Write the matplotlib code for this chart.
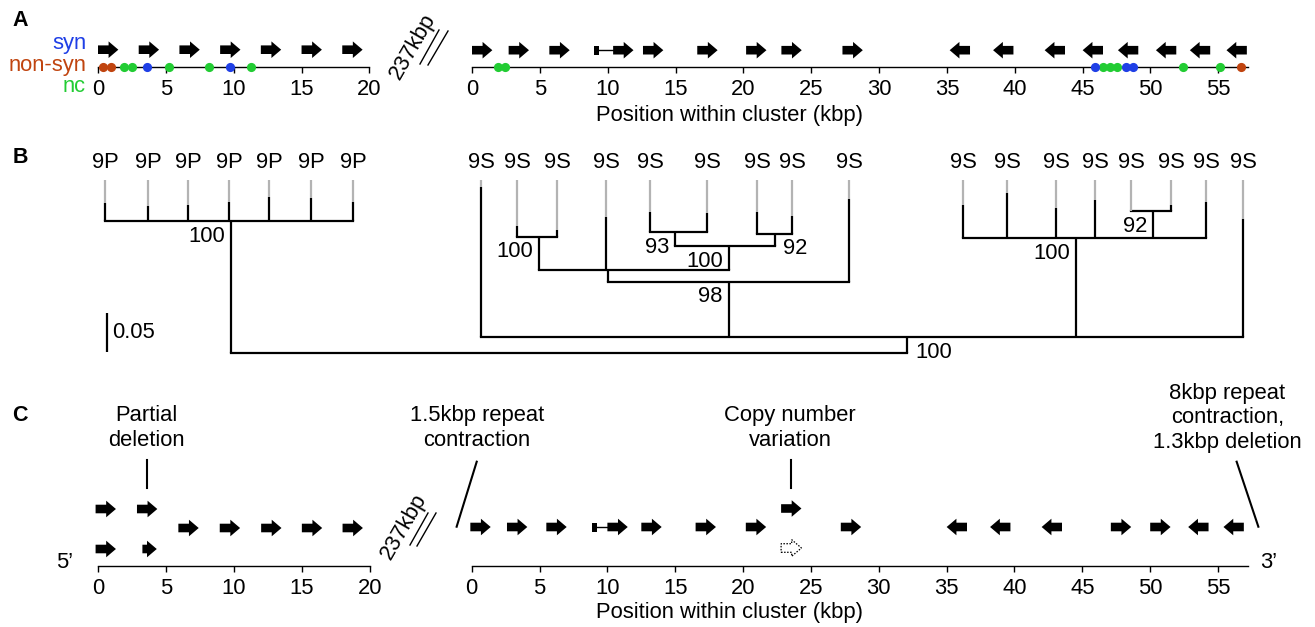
import matplotlib
matplotlib.use('Agg')
import matplotlib.pyplot as plt
from matplotlib.patches import Polygon, Rectangle

plt.rcParams['font.family'] = ['Liberation Sans', 'DejaVu Sans']
plt.rcParams['font.size'] = 15.8

# figure geometry in pixels (dpi 100)
W, H = 1315, 627
PX_PER_KBP = 13.57

BLUE = '#1f3fe6'
RED = '#c0440f'
GREEN = '#22cc33'
GRAY = '#b3b3b3'

# ---------------- Panel A data (kbp) ----------------
a_left_genes = [0, 3, 6, 9, 12, 15, 18]
a_left_strand = [1, 1, 1, 1, 1, 1, 1]
a_left_syn = [3.6, 9.7]
a_left_nonsyn = [0.4, 0.95]
a_left_nc = [1.9, 2.5, 5.2, 8.2, 11.3]

a_right_genes = [0, 2.7, 5.7, 10.4, 12.6, 16.6, 20.2, 22.8, 27.3,
                 35.2, 38.4, 42.2, 45.0, 47.6, 50.4, 52.9, 55.6]
a_right_strand = [1, 1, 1, 1, 1, 1, 1, 1, 1, -1, -1, -1, -1, -1, -1, -1, -1]
a_right_box = [9.0]
a_right_syn = [45.9, 48.2, 48.7]
a_right_nonsyn = [56.7]
a_right_nc = [1.9, 2.4, 46.5, 47.0, 47.5, 52.4, 55.1]

left_ticks = [0, 5, 10, 15, 20]
right_ticks = [0, 5, 10, 15, 20, 25, 30, 35, 40, 45, 50, 55]
left_end = 20
right_end = 57.2

# ---------------- Panel B data (tree) ----------------
leaf_names = ['9P'] * 7 + ['9S'] * 17
leaf_depth = [0.192, 0.188, 0.190, 0.194, 0.200, 0.199, 0.193,
              0.213, 0.163, 0.158, 0.175, 0.181, 0.179, 0.181, 0.176, 0.198,
              0.190, 0.2055, 0.1855, 0.196, 0.182, 0.190, 0.194, 0.172]
node_ids = ['p', 'a', 'b', 'c93', 'c92', 'n2', 'n98', 'r92', 'r100', 's', 'root']
node_children = [[0, 1, 2, 3, 4, 5, 6], [8, 9], ['c93', 'c92'], [11, 12], [13, 14],
                 ['a', 10, 'b'], ['n2', 15], [20, 21], [16, 17, 18, 19, 'r92', 22],
                 [7, 'n98', 'r100', 23], ['p', 's']]
node_depth = [0.169, 0.149, 0.137, 0.155, 0.153, 0.106, 0.0914, 0.182, 0.147, 0.0205, 0.0]
node_support = ['100', '100', '100', '93', '92', '', '98', '92', '100', '100', '']
scale_len = 0.05

# tree layout (pixel x of tips / nodes)
leaf_x = [105, 148, 188, 229, 269, 311, 353,
          481, 517, 557, 606, 650, 707, 757, 792, 849,
          963, 1007, 1056, 1095, 1131, 1171, 1206, 1243]
node_x = [231, 539, 729, 675, 775, 608, 729, 1153, 1076, 907, 0]
support_side = ['r', 'r', 'r', 'r', 'l', '', 'r', 'r', 'r', 'l', '']

# ---------------- Panel C data (kbp) ----------------
c_left_main = [5.9, 8.95, 12, 15, 18]
c_left_upper = [-0.2, 2.85]
c_left_lower = [-0.2]
c_left_partial = [3.25]
c_right_genes = [-0.1, 2.6, 5.5, 10.0, 12.5, 16.5, 20.2, 27.2,
                 35.0, 38.2, 42.0, 47.1, 50.0, 52.8, 55.4]
c_right_strand = [1, 1, 1, 1, 1, 1, 1, 1, -1, -1, -1, 1, 1, -1, -1]
c_right_box = [8.9]
c_copy_gain = [22.8]
c_copy_lost = [22.8]

GENE_LEN = 1.5
HEAD_LEN = 0.72


def gene_arrow(ax, x, y, strand=1, length=GENE_LEN, dashed=False):
    body = length - HEAD_LEN
    bh, hh = 4.3, 8.3
    if strand == 1:
        pts = [(x, y - bh), (x + body, y - bh), (x + body, y - hh), (x + length, y),
               (x + body, y + hh), (x + body, y + bh), (x, y + bh)]
    else:
        pts = [(x + length, y - bh), (x + HEAD_LEN, y - bh), (x + HEAD_LEN, y - hh), (x, y),
               (x + HEAD_LEN, y + hh), (x + HEAD_LEN, y + bh), (x + length, y + bh)]
    if dashed:
        ax.add_patch(Polygon(pts, closed=True, facecolor='none', edgecolor='black',
                             lw=0.9, ls=(0, (1.2, 1.2)), clip_on=False))
    else:
        ax.add_patch(Polygon(pts, closed=True, facecolor='black', edgecolor='none', clip_on=False))


def box_gene(ax, x, y, nxt):
    ax.add_patch(Rectangle((x, y - 4.5), 0.37, 9, facecolor='black', edgecolor='none'))
    ax.plot([x + 0.37, nxt], [y, y], color='black', lw=1.0)


def track(x0, yaxis, top, xmin, xmax, xend, ticks):
    fig_ax = fig.add_axes([(x0 + xmin * PX_PER_KBP) / W, 1 - yaxis / H,
                           (xmax - xmin) * PX_PER_KBP / W, (yaxis - top) / H])
    fig_ax.set_xlim(xmin, xmax)
    fig_ax.set_ylim(0, yaxis - top)
    for s in ['top', 'right', 'left']:
        fig_ax.spines[s].set_visible(False)
    fig_ax.spines['bottom'].set_bounds(0, xend)
    fig_ax.spines['bottom'].set_linewidth(1.0)
    fig_ax.set_yticks([])
    fig_ax.set_xticks(ticks)
    fig_ax.tick_params(axis='x', direction='out', length=4.5, width=1.0, pad=4.5, labelsize=15.8)
    fig_ax.patch.set_visible(False)
    return fig_ax


def snps(ax, syn, nonsyn, nc):
    for vals, c in [(nc, GREEN), (syn, BLUE), (nonsyn, RED)]:
        ax.plot(vals, [0] * len(vals), 'o', color=c, ms=6.6, mew=0, clip_on=False, zorder=5)


fig = plt.figure(figsize=(W / 100, H / 100), dpi=100)

# ---------------- Panel A ----------------
axAL = track(98, 66.7, 30, -1, 21, left_end, left_ticks)
for g, s in zip(a_left_genes, a_left_strand):
    gene_arrow(axAL, g, 17, s)
snps(axAL, a_left_syn, a_left_nonsyn, a_left_nc)

axAR = track(472, 66.7, 30, -1, 58.5, right_end, right_ticks)
for g, s in zip(a_right_genes, a_right_strand):
    gene_arrow(axAR, g, 16.5, s)
for b in a_right_box:
    box_gene(axAR, b, 16.5, 10.4)
snps(axAR, a_right_syn, a_right_nonsyn, a_right_nc)
axAR.text(19.0, -49, 'Position within cluster (kbp)', ha='center', va='center')

# ---------------- Panel B ----------------
def depth_at(py):
    return (353 - py) / 780.0

tax = fig.add_axes([0, 1 - 375 / H, 1, (375 - 150) / H])
tax.set_xlim(0, W)
tax.set_ylim(depth_at(375), depth_at(150))
tax.axis('off')
LW = 1.6
tip_top = depth_at(180)


def child_pos(c):
    if isinstance(c, str):
        i = node_ids.index(c)
        return node_x[i], node_depth[i]
    return leaf_x[c], leaf_depth[c]


for i, nid in enumerate(node_ids):
    d = node_depth[i]
    xs = [child_pos(c)[0] for c in node_children[i]]
    tax.plot([min(xs), max(xs)], [d, d], color='black', lw=LW, solid_capstyle='projecting')
    for c in node_children[i]:
        cx, cd = child_pos(c)
        if not isinstance(c, str):
            tax.plot([cx, cx], [cd, tip_top], color=GRAY, lw=LW, solid_capstyle='butt')
        tax.plot([cx, cx], [d, cd], color='black', lw=LW, solid_capstyle='butt')
    if node_support[i]:
        off = 15 / 780.0
        if support_side[i] == 'r':
            tax.text(node_x[i] - 6, d - off, node_support[i], ha='right', va='center')
        else:
            tax.text(node_x[i] + 8, d - off, node_support[i], ha='left', va='center')

for x, name in zip(leaf_x, leaf_names):
    tax.text(x, depth_at(163), name, ha='center', va='center')

# scale bar
tax.plot([107, 107], [0.001, 0.001 + scale_len], color='black', lw=LW, solid_capstyle='butt')
tax.text(112, 0.001 + scale_len / 2, '0.05', ha='left', va='center')

# ---------------- Panel C ----------------
axCL = track(98.3, 566, 455, -1, 21, left_end, left_ticks)
for g in c_left_main:
    gene_arrow(axCL, g, 38)
for g in c_left_upper:
    gene_arrow(axCL, g, 57)
for g in c_left_lower:
    gene_arrow(axCL, g, 17)
for g in c_left_partial:
    gene_arrow(axCL, g, 17, length=1.06)
axCL.text(3.57, 138, 'Partial\ndeletion', ha='center', va='center')
axCL.plot([3.57, 3.57], [78, 106], color='black', lw=1.5)
axCL.text(-2.45, 3, '5\u2019', ha='center', va='center')

axCR = track(471.7, 566, 455, -1, 58.5, right_end, right_ticks)
for g, s in zip(c_right_genes, c_right_strand):
    gene_arrow(axCR, g, 39, s)
for b in c_right_box:
    box_gene(axCR, b, 39, 10.0)
for g in c_copy_gain:
    gene_arrow(axCR, g, 57.5)
for g in c_copy_lost:
    gene_arrow(axCR, g, 18, dashed=True)
axCR.text(0.4, 138, '1.5kbp repeat\ncontraction', ha='center', va='center')
axCR.plot([0.37, -1.11], [104.3, 39.3], color='black', lw=1.5, clip_on=False)
axCR.text(23.45, 138, 'Copy number\nvariation', ha='center', va='center')
axCR.plot([23.53, 23.53], [78, 106], color='black', lw=1.5)
axCR.text(55.7, 148, '8kbp repeat\ncontraction,\n1.3kbp deletion', ha='center', va='center')
axCR.plot([56.37, 57.97], [104.3, 39.3], color='black', lw=1.5, clip_on=False)
axCR.text(58.7, 3, '3\u2019', ha='center', va='center')
axCR.text(19.0, -46.5, 'Position within cluster (kbp)', ha='center', va='center')

# ---------------- overlay: panel letters, labels, breaks ----------------
ov = fig.add_axes([0, 0, 1, 1])
ov.set_xlim(0, W)
ov.set_ylim(H, 0)
ov.axis('off')
ov.patch.set_visible(False)
for letter, y in [('A', 20), ('B', 157.5), ('C', 415.5)]:
    ov.text(20, y, letter, ha='center', va='center', fontsize=15.5, fontweight='bold')
ov.text(86, 44, 'syn', color=BLUE, ha='right', va='center')
ov.text(86, 65, 'non-syn', color=RED, ha='right', va='center')
ov.text(86, 87, 'nc', color=GREEN, ha='right', va='center')

for cx, cy, lines in [(413, 46, [((420, 64), (439, 30)), ((428, 65), (448, 31))]),
                      (404, 526, [((410, 545), (428, 513)), ((417, 546), (436, 513))])]:
    ov.text(cx, cy, '237kbp', rotation=60, ha='center', va='center', rotation_mode='anchor')
    for (x1, y1), (x2, y2) in lines:
        ov.plot([x1, x2], [y1, y2], color='black', lw=1.0)

fig.savefig('out.png', dpi=100)
